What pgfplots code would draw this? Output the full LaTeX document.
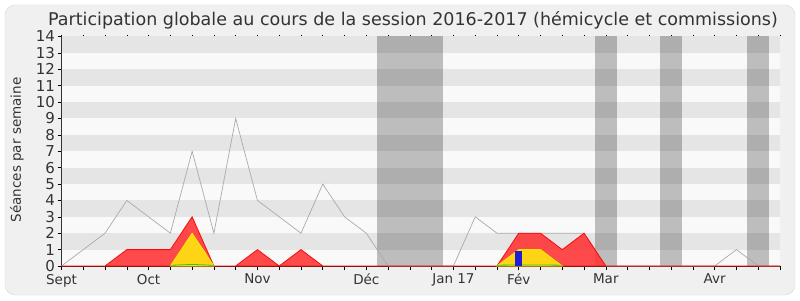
\documentclass[border=0pt]{standalone}
\usepackage{pgfplots}
\pgfplotsset{compat=1.18}
\usepackage{fontspec}
\setmainfont{DejaVu Sans}
\definecolor{plotbg}{RGB}{249,249,249}
\definecolor{stripe}{RGB}{229,229,229}
\definecolor{bggray}{RGB}{240,240,240}
\definecolor{bordergray}{RGB}{218,218,218}
\definecolor{greyline}{RGB}{170,170,170}
\definecolor{redfill}{RGB}{255,50,50}
\definecolor{reddraw}{RGB}{250,10,10}
\definecolor{yelfill}{RGB}{255,212,20}
\definecolor{yeldraw}{RGB}{250,235,0}
\definecolor{txt}{RGB}{51,51,51}
\definecolor{baseline}{RGB}{70,25,10}
\definecolor{barblue}{RGB}{30,30,215}
\definecolor{grn}{RGB}{40,200,40}
\begin{document}
\begin{tikzpicture}[x=1bp,y=1bp]
\path[use as bounding box] (0,0) rectangle (800,300);
\fill[white] (0,0) rectangle (800,300);
\draw[draw=bordergray, fill=bggray, rounded corners=10bp] (5,5) rectangle (795,295);
\node[anchor=base, inner sep=0, text=txt] at (413bp,274bp) {\fontsize{17.5bp}{20bp}\selectfont Participation globale au cours de la session 2016-2017 (hémicycle et commissions)};
\node[rotate=90, inner sep=0, text=txt] at (17bp,150bp) {\fontsize{13.5bp}{16bp}\selectfont Séances par semaine};
\begin{axis}[
  at={(61.5bp,34bp)}, anchor=south west, scale only axis,
  width=718.5bp, height=229.5bp,
  xmin=0, xmax=33, ymin=0, ymax=14,
  axis x line*=bottom, axis y line*=left,
  axis background/.style={fill=plotbg},
  x axis line style={draw=baseline, line width=0.8pt, -},
  y axis line style={draw=txt, line width=0.6pt, -},
  xtick={0,...,33},
  xticklabels={Sept,{},{},{},Oct,{},{},{},{},Nov,{},{},{},{},Déc,{},{},{},Jan 17,{},{},Fév,{},{},{},Mar,{},{},{},{},Avr,{},{},{}},
  ytick={0,...,14},
  /pgf/number format/assume math mode=true,
  tick align=outside,
  major tick length=4bp,
  tick style={draw=black, line width=0.6pt},
  x tick label style={font=\fontsize{13.5bp}{16bp}\selectfont, text=txt, yshift=-0.5bp},
  y tick label style={font=\fontsize{15bp}{17bp}\selectfont, text=txt, xshift=1bp},
  clip=false,
]
% stripes
\fill[stripe] (axis cs:0,1) rectangle (axis cs:33,2);
\fill[stripe] (axis cs:0,3) rectangle (axis cs:33,4);
\fill[stripe] (axis cs:0,5) rectangle (axis cs:33,6);
\fill[stripe] (axis cs:0,7) rectangle (axis cs:33,8);
\fill[stripe] (axis cs:0,9) rectangle (axis cs:33,10);
\fill[stripe] (axis cs:0,11) rectangle (axis cs:33,12);
\fill[stripe] (axis cs:0,13) rectangle (axis cs:33,14);
% holidays
\fill[black, fill opacity=0.24] (axis cs:14.5,0) rectangle (axis cs:17.5,14);
\fill[black, fill opacity=0.24] (axis cs:24.5,0) rectangle (axis cs:25.5,14);
\fill[black, fill opacity=0.24] (axis cs:27.5,0) rectangle (axis cs:28.5,14);
\fill[black, fill opacity=0.24] (axis cs:31.5,0) rectangle (axis cs:32.5,14);
% total
\addplot[greyline, line width=0.7pt, mark=none] coordinates {
(0,0)(1,1)(2,2)(3,4)(4,3)(5,2)(6,7)(7,2)(8,9)(9,4)(10,3)(11,2)(12,5)(13,3)(14,2)(15,0)(16,0)(17,0)(18,0)(19,3)(20,2)(21,2)(22,2)(23,2)(24,2)(25,0)(26,0)(27,0)(28,0)(29,0)(30,0)(31,1)(32,0)(33,0)};
% red
\addplot[draw=reddraw, fill=redfill, fill opacity=0.88, line width=0.8pt, mark=none] coordinates {
(0,0)(1,0)(2,0)(3,1)(4,1)(5,1)(6,3)(7,0)(8,0)(9,1)(10,0)(11,1)(12,0)(13,0)(14,0)(15,0)(16,0)(17,0)(18,0)(19,0)(20,0)(21,2)(22,2)(23,1)(24,2)(25,0)(26,0)(27,0)(28,0)(29,0)(30,0)(31,0)(32,0)(33,0)} \closedcycle;
% yellow
\addplot[draw=yeldraw, fill=yelfill, line width=0.8pt, mark=none] coordinates {
(5,0)(6,2)(7,0)} \closedcycle;
\addplot[draw=yeldraw, fill=yelfill, line width=0.8pt, mark=none] coordinates {
(20,0)(21,1)(22,1)(23,0)} \closedcycle;
% green
\addplot[grn, line width=0.8pt, mark=none] coordinates {(5,0.04)(6,0.1)(7,0.04)};
\addplot[grn, line width=0.8pt, mark=none] coordinates {(20,0.05)(21,0.06)(22,0.06)(23,0.05)};
% blue bar
\addplot[ybar, bar width=7bp, fill=barblue, draw=none] coordinates {(21,0.93)};
\end{axis}
\begin{axis}[
  at={(61.5bp,34bp)}, anchor=south west, scale only axis,
  width=718.5bp, height=229.5bp,
  xmin=0, xmax=33, ymin=0, ymax=14,
  axis x line*=top, axis y line=none,
  x axis line style={draw=none},
  xtick={0,...,33}, xticklabels={},
  tick align=outside, major tick length=1.5bp,
  tick style={draw=black, line width=0.6pt},
]
\end{axis}
\end{tikzpicture}
\end{document}
